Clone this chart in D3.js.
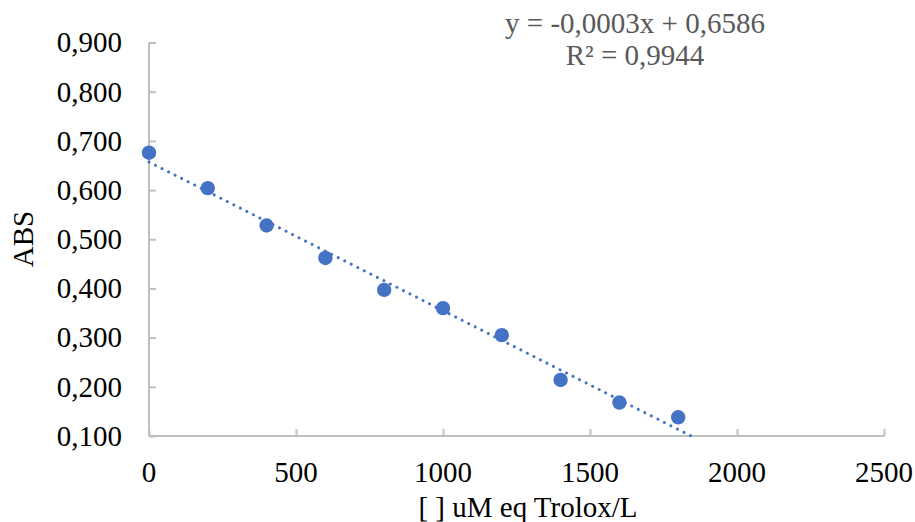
<!DOCTYPE html>
<html>
<head>
<meta charset="utf-8">
<script src="https://cdn.jsdelivr.net/npm/d3@7"></script>
<style>
  html, body { margin: 0; padding: 0; background: #ffffff; }
  svg { display: block; }
  text { font-family: "Liberation Serif", "Times New Roman", serif; }
</style>
</head>
<body>
<svg id="chart" width="915" height="522"></svg>
<script>
// Trolox calibration: concentration (uM eq Trolox/L) vs absorbance
const concentrations = [0, 200, 400, 600, 800, 1000, 1200, 1400, 1600, 1800];
const absorbances = [0.676, 0.604, 0.528, 0.462, 0.397, 0.360, 0.305, 0.214, 0.168, 0.138];
const xTicks = [0, 500, 1000, 1500, 2000, 2500];
const yTicks = [0.1, 0.2, 0.3, 0.4, 0.5, 0.6, 0.7, 0.8, 0.9];
const equationText = "y = -0,0003x + 0,6586";
const r2Text = "R² = 0,9944";
const yTitle = "ABS";
const xTitle = "[ ] uM eq Trolox/L";

const svg = d3.select("#chart");
const margin = { left: 149, right: 31, top: 42.5, bottom: 86 };
const W = 915, H = 522;
const fontSize = 29;

const x = d3.scaleLinear().domain([0, 2500]).range([margin.left, W - margin.right]);
const y = d3.scaleLinear().domain([0.1, 0.9]).range([H - margin.bottom, margin.top]);

const axisColor = "#bfbfbf";
const fmtY = v => d3.format(".3f")(v).replace(".", ",");

// Y axis (ticks pointing into the plot)
const yAxis = svg.append("g")
  .attr("transform", `translate(${x(0)},0)`)
  .call(d3.axisRight(y).tickValues(yTicks).tickSize(7).tickFormat(""));
yAxis.select(".domain").attr("stroke", axisColor).attr("stroke-width", 2).attr("d", `M0,${y(0.9)}V${y(0.1)}`);
yAxis.selectAll(".tick line").attr("stroke", axisColor).attr("stroke-width", 2);

svg.append("g").selectAll("text").data(yTicks).join("text")
  .attr("x", 122).attr("y", d => y(d)).attr("dy", "0.34em")
  .attr("text-anchor", "end").attr("font-size", fontSize).attr("fill", "#000")
  .text(fmtY);

// X axis (ticks pointing up)
const xAxis = svg.append("g")
  .attr("transform", `translate(0,${y(0.1)})`)
  .call(d3.axisTop(x).tickValues(xTicks).tickSize(7).tickFormat(""));
xAxis.select(".domain").attr("stroke", axisColor).attr("stroke-width", 2).attr("d", `M${x(0)},0H${x(2500)}`);
xAxis.selectAll(".tick line").attr("stroke", axisColor).attr("stroke-width", 2);

svg.append("g").selectAll("text").data(xTicks).join("text")
  .attr("x", d => x(d)).attr("y", 482)
  .attr("text-anchor", "middle").attr("font-size", fontSize).attr("fill", "#000")
  .text(d => d);

// Least-squares trendline, drawn until it meets the bottom axis
const n = concentrations.length;
const mx = d3.mean(concentrations), my = d3.mean(absorbances);
let sxy = 0, sxx = 0;
for (let i = 0; i < n; i++) {
  sxy += (concentrations[i] - mx) * (absorbances[i] - my);
  sxx += (concentrations[i] - mx) ** 2;
}
const slope = sxy / sxx;
const intercept = my - slope * mx;
const xEnd = (0.1 - intercept) / slope;

svg.append("line")
  .attr("x1", x(0)).attr("y1", y(intercept))
  .attr("x2", x(xEnd)).attr("y2", y(0.1))
  .attr("stroke", "#4472C4").attr("stroke-width", 3)
  .attr("stroke-linecap", "round").attr("stroke-dasharray", "0.01 7.3");

// Data points
svg.append("g").selectAll("circle")
  .data(concentrations.map((c, i) => [c, absorbances[i]]))
  .join("circle")
  .attr("cx", d => x(d[0])).attr("cy", d => y(d[1]))
  .attr("r", 7.2).attr("fill", "#4472C4");

// Trendline equation
svg.append("text").attr("x", 635).attr("y", 33)
  .attr("text-anchor", "middle").attr("font-size", fontSize).attr("fill", "#595959")
  .text(equationText);
svg.append("text").attr("x", 635).attr("y", 65)
  .attr("text-anchor", "middle").attr("font-size", fontSize).attr("fill", "#595959")
  .text(r2Text);

// Axis titles
svg.append("text")
  .attr("transform", "translate(33,239) rotate(-90)")
  .attr("text-anchor", "middle").attr("font-size", fontSize).attr("fill", "#000")
  .text(yTitle);
svg.append("text").attr("x", 528).attr("y", 517)
  .attr("text-anchor", "middle").attr("font-size", fontSize).attr("fill", "#000")
  .text(xTitle);
</script>
</body>
</html>
